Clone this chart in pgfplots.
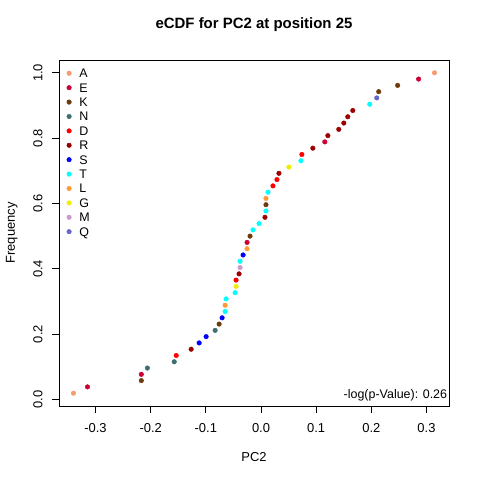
\documentclass[border=0pt]{standalone}
\usepackage{pgfplots}
\pgfplotsset{compat=1.18}
\usepackage{fontspec}
\setmainfont{Liberation Sans}
\definecolor{cA}{HTML}{F79A6E}
\definecolor{cE}{HTML}{CC0033}
\definecolor{cK}{HTML}{6E3B0C}
\definecolor{cN}{HTML}{3F6E6E}
\definecolor{cD}{HTML}{FF0000}
\definecolor{cR}{HTML}{9B0000}
\definecolor{cS}{HTML}{0000FF}
\definecolor{cT}{HTML}{00FFFF}
\definecolor{cL}{HTML}{FF9933}
\definecolor{cG}{HTML}{EEEE00}
\definecolor{cM}{HTML}{CC99CC}
\definecolor{cQ}{HTML}{6666CC}
\begin{document}
\begin{tikzpicture}
\path[use as bounding box] (0bp,0bp) rectangle (480bp,480bp);
\begin{axis}[
  at={(59bp,74bp)}, anchor=south west,
  width=390bp, height=346bp, scale only axis,
  xmin=-0.3662, xmax=0.3408, ymin=-0.0200, ymax=1.0392,
  axis line style={line width=0.75bp},
  tick style={line width=0.75bp, black},
  tick align=outside, major tick length=7bp,
  xtick={-0.3,-0.2,-0.1,0,0.1,0.2,0.3},
  xticklabels={-0.3,-0.2,-0.1,0.0,0.1,0.2,0.3},
  ytick={0,0.2,0.4,0.6,0.8,1},
  yticklabels={0.0,0.2,0.4,0.6,0.8,1.0},
  xtick pos=bottom, ytick pos=left,
  ticklabel style={font=\fontsize{13}{13}\selectfont, inner sep=0pt, text height=9.3bp, text depth=0pt},
  xticklabel style={anchor=north, yshift=-10bp},
  yticklabel style={xshift=-9.5bp, rotate=90, anchor=south},
  title={eCDF for PC2 at position 25},
  title style={at={(axis description cs:0.5,1.0838)}, anchor=center, font=\fontsize{15}{15}\selectfont\bfseries},
  xlabel={PC2},
  xlabel style={at={(axis description cs:0.5,-0.1483)}, anchor=center, font=\fontsize{13}{13}\selectfont},
  ylabel={Frequency},
  ylabel style={at={(axis description cs:-0.121,0.5)}, anchor=center, font=\fontsize{13}{13}\selectfont},
  legend cell align=left,
  legend image code/.code={\draw[#1] plot coordinates {(0bp,0bp)};},
  legend style={at={(axis description cs:0.02,0.9746)}, anchor=north west, draw=none, fill=none,
    inner sep=0pt, outer sep=0pt, row sep=5.4bp, column sep=8bp,
    font=\fontsize{12.5}{12.5}\selectfont,
    nodes={inner sep=0pt, text height=9bp, text depth=0pt}},
  every axis plot/.append style={only marks, mark=*, mark size=2.3bp},
]
\addplot[cA] coordinates {(-0.3400,0.0192) (0.3146,1.0000)};
\addlegendentry{A}
\addplot[cE] coordinates {(-0.3146,0.0385) (-0.2170,0.0769) (-0.0253,0.4808) (0.1157,0.7885) (0.2857,0.9808)};
\addlegendentry{E}
\addplot[cK] coordinates {(-0.2170,0.0577) (-0.0759,0.2308) (-0.0199,0.5000) (0.0090,0.5962) (0.2134,0.9423) (0.2477,0.9615)};
\addlegendentry{K}
\addplot[cN] coordinates {(-0.2060,0.0962) (-0.1573,0.1154) (-0.0832,0.2115)};
\addlegendentry{N}
\addplot[cD] coordinates {(-0.1537,0.1346) (-0.0452,0.3654) (0.0217,0.6538) (0.0289,0.6731) (0.0741,0.7500)};
\addlegendentry{D}
\addplot[cR] coordinates {(-0.1266,0.1538) (-0.0398,0.3846) (0.0072,0.5577) (0.0325,0.6923) (0.0940,0.7692) (0.1212,0.8077) (0.1410,0.8269) (0.1501,0.8462) (0.1573,0.8654) (0.1664,0.8846)};
\addlegendentry{R}
\addplot[cS] coordinates {(-0.1121,0.1731) (-0.0995,0.1923) (-0.0705,0.2500) (-0.0325,0.4423)};
\addlegendentry{S}
\addplot[cT] coordinates {(-0.0651,0.2692) (-0.0633,0.3077) (-0.0470,0.3269) (-0.0380,0.4231) (-0.0145,0.5192) (-0.0036,0.5385) (0.0090,0.5769) (0.0127,0.6346) (0.0723,0.7308) (0.1971,0.9038)};
\addlegendentry{T}
\addplot[cL] coordinates {(-0.0651,0.2885) (-0.0253,0.4615) (0.0090,0.6154)};
\addlegendentry{L}
\addplot[cG] coordinates {(-0.0452,0.3462) (0.0506,0.7115)};
\addlegendentry{G}
\addplot[cM] coordinates {(-0.0380,0.4038)};
\addlegendentry{M}
\addplot[cQ] coordinates {(0.2098,0.9231)};
\addlegendentry{Q}
\node[anchor=east, font=\fontsize{12.5}{12.5}\selectfont, inner sep=0pt] at (rel axis cs:0.9956,0.0318) {-log(p-Value): 0.26};
\end{axis}
\end{tikzpicture}
\end{document}
